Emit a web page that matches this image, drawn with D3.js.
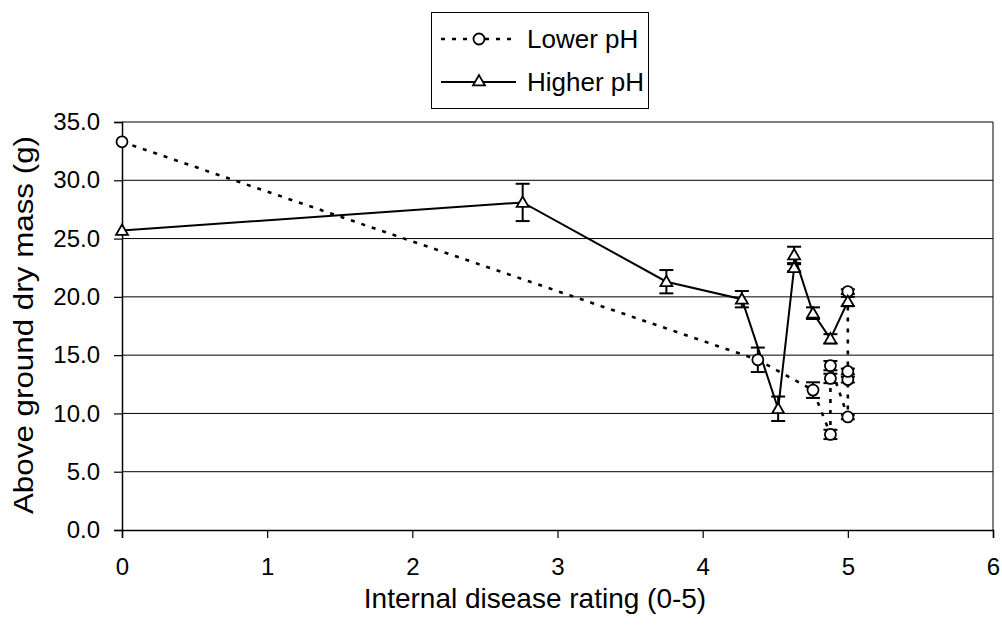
<!DOCTYPE html>
<html>
<head>
<meta charset="utf-8">
<script src="https://cdn.jsdelivr.net/npm/d3@7"></script>
<style>
  html, body { margin: 0; padding: 0; background: #fff; }
  svg { display: block; font-family: "Liberation Sans", Arial, sans-serif; }
</style>
</head>
<body>
<svg id="chart" width="1002" height="625"></svg>
<script>
// Disease rating (x) vs above-ground dry mass (y), with standard-error bars
const lowerX   = [0, 4.38, 4.76, 4.88, 4.88, 4.88, 5.0, 5.0, 5.0, 5.0];
const lowerY   = [33.3, 14.6, 12.0, 8.2, 13.0, 14.1, 9.7, 12.9, 13.6, 20.45];
const lowerErr = [0, 1.05, 0.67, 0.4, 0.4, 0.4, 0.2, 0.25, 0.25, 0.2];

const higherX   = [0, 2.76, 3.75, 4.27, 4.52, 4.63, 4.63, 4.76, 4.88, 5.0];
const higherY   = [25.7, 28.1, 21.3, 19.8, 10.4, 22.5, 23.6, 18.6, 16.4, 19.6];
const higherErr = [0, 1.6, 1.0, 0.7, 1.05, 0.3, 0.7, 0.5, 0.4, 0.4];

const seriesNames = ["Lower pH", "Higher pH"];
const xTicks = [0, 1, 2, 3, 4, 5, 6];
const yTicks = [0, 5, 10, 15, 20, 25, 30, 35];
const xTitle = "Internal disease rating (0-5)";
const yTitle = "Above ground dry mass (g)";

const svg = d3.select("#chart");
const plot = { left: 122, right: 993, top: 122, bottom: 530 };

const x = d3.scaleLinear().domain([0, 6]).range([plot.left, plot.right]);
const y = d3.scaleLinear().domain([0, 35]).range([plot.bottom, plot.top]);

// horizontal gridlines
svg.append("g")
  .selectAll("line")
  .data(yTicks.filter(d => d > 0))
  .join("line")
  .attr("x1", plot.left).attr("x2", plot.right)
  .attr("y1", d => y(d)).attr("y2", d => y(d))
  .attr("stroke", "#000").attr("stroke-width", 1);

// right edge of the plot area
svg.append("line")
  .attr("x1", plot.right).attr("x2", plot.right)
  .attr("y1", plot.top).attr("y2", plot.bottom)
  .attr("stroke", "#000").attr("stroke-width", 1);

// axes
const xAxis = svg.append("g")
  .attr("transform", `translate(0,${plot.bottom})`)
  .call(d3.axisBottom(x).tickValues(xTicks).tickFormat(d3.format("d")).tickSizeOuter(0).tickSize(8).tickPadding(20));
const yAxis = svg.append("g")
  .attr("transform", `translate(${plot.left},0)`)
  .call(d3.axisLeft(y).tickValues(yTicks).tickFormat(d3.format(".1f")).tickSizeOuter(0).tickSize(8).tickPadding(14));

[xAxis, yAxis].forEach(a => {
  a.select(".domain").attr("stroke", "#000").attr("stroke-width", 1.5);
  a.selectAll(".tick line").attr("stroke", "#000").attr("stroke-width", 1.2);
  a.selectAll(".tick text").attr("fill", "#000").attr("font-size", 24)
    .attr("font-family", "'Liberation Sans', Arial, sans-serif");
});

// axis titles
svg.append("text")
  .attr("x", 535).attr("y", 608)
  .attr("text-anchor", "middle").attr("font-size", 28).attr("fill", "#000")
  .text(xTitle);
svg.append("text")
  .attr("transform", `translate(33,325) rotate(-90) scale(1.12,1)`)
  .attr("text-anchor", "middle").attr("font-size", 28).attr("fill", "#000")
  .text(yTitle);

const lowerPts = lowerX.map((v, i) => ({ x: v, y: lowerY[i], e: lowerErr[i] }));
const higherPts = higherX.map((v, i) => ({ x: v, y: higherY[i], e: higherErr[i] }));

const line = d3.line().x(d => x(d.x)).y(d => y(d.y));

const dotted = { stroke: "#000", width: 2.6, dash: "4,7" };
const solid = { stroke: "#000", width: 2 };

// series lines
svg.append("path").datum(lowerPts).attr("d", line)
  .attr("fill", "none").attr("stroke", dotted.stroke)
  .attr("stroke-width", dotted.width).attr("stroke-dasharray", dotted.dash);
svg.append("path").datum(higherPts).attr("d", line)
  .attr("fill", "none").attr("stroke", solid.stroke).attr("stroke-width", solid.width);

// error bars
function errorBars(pts) {
  const g = svg.append("g").attr("stroke", "#000").attr("stroke-width", 2);
  const withErr = pts.filter(d => d.e > 0);
  g.selectAll("line.v").data(withErr).join("line").attr("class", "v")
    .attr("x1", d => x(d.x)).attr("x2", d => x(d.x))
    .attr("y1", d => y(d.y - d.e)).attr("y2", d => y(d.y + d.e));
  ["lo", "hi"].forEach(side => {
    g.selectAll("line." + side).data(withErr).join("line").attr("class", side)
      .attr("x1", d => x(d.x) - 7).attr("x2", d => x(d.x) + 7)
      .attr("y1", d => y(side === "lo" ? d.y - d.e : d.y + d.e))
      .attr("y2", d => y(side === "lo" ? d.y - d.e : d.y + d.e));
  });
}
errorBars(lowerPts);
errorBars(higherPts);

// markers
const circleSym = d3.symbol().type(d3.symbolCircle).size(95);
const triSym = d3.symbol().type(d3.symbolTriangle).size(62);

svg.append("g").selectAll("path").data(lowerPts).join("path")
  .attr("d", circleSym)
  .attr("transform", d => `translate(${x(d.x)},${y(d.y)})`)
  .attr("fill", "#fff").attr("stroke", "#000").attr("stroke-width", 1.8);
svg.append("g").selectAll("path").data(higherPts).join("path")
  .attr("d", triSym)
  .attr("transform", d => `translate(${x(d.x)},${y(d.y) + 1})`)
  .attr("fill", "#fff").attr("stroke", "#000").attr("stroke-width", 1.8);

// legend
const legend = svg.append("g");
legend.append("rect")
  .attr("x", 431.5).attr("y", 12.5).attr("width", 217).attr("height", 96)
  .attr("fill", "#fff").attr("stroke", "#000").attr("stroke-width", 1);
const rows = [
  { name: seriesNames[0], cy: 39, style: dotted, sym: circleSym },
  { name: seriesNames[1], cy: 82, style: solid, sym: triSym }
];
rows.forEach(r => {
  legend.append("line")
    .attr("x1", 441).attr("x2", 516).attr("y1", r.cy).attr("y2", r.cy)
    .attr("stroke", "#000").attr("stroke-width", r.style.width)
    .attr("stroke-dasharray", r.style.dash || null);
  legend.append("path").attr("d", r.sym)
    .attr("transform", `translate(479,${r.cy})`)
    .attr("fill", "#fff").attr("stroke", "#000").attr("stroke-width", 1.8);
  legend.append("text")
    .attr("x", 527).attr("y", r.cy + 9)
    .attr("font-size", 26).attr("fill", "#000")
    .text(r.name);
});
</script>
</body>
</html>
